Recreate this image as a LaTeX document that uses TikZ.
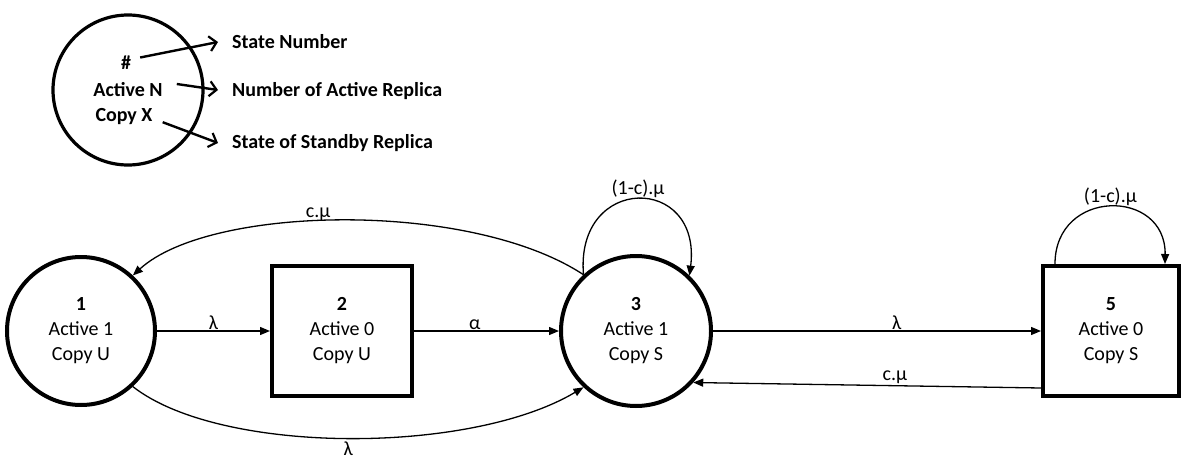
\documentclass[tikz,border=0pt]{standalone}
\usepackage{fontspec}
\setmainfont{Carlito}
\usetikzlibrary{arrows.meta,calc}
\begin{document}
\begin{tikzpicture}[x=1pt,y=-1pt,
  txt/.style={font=\fontsize{20}{25}\selectfont},
  btxt/.style={font=\bfseries\fontsize{20}{25}\selectfont, inner sep=0pt},
  state/.style={circle, draw, line width=4pt, inner sep=0pt, align=center, txt},
  boxstate/.style={rectangle, draw, line width=4pt, inner sep=0pt, align=center, txt},
  arr/.style={line width=1.3pt, -{Triangle[length=10pt,width=8pt]}},
  legarr/.style={line width=2.4pt, -{Straight Barb[length=7pt,width=15pt,line width=2.2pt]}},
  lbl/.style={txt, inner sep=1pt}
]
\useasboundingbox (0,0) rectangle (1183,460);

% ---- legend ----
\node[circle, draw, line width=3.2pt, minimum size=150pt] (leg) at (128,90) {};
\node[btxt, anchor=base, text height=11pt, text depth=0pt] (hash) at (126,70) {\#};
\node[btxt, anchor=base, text height=12pt, text depth=0pt] (actN) at (128,96) {Active N};
\node[btxt, anchor=base, text height=12pt, text depth=0pt] (copyX) at (124,121) {Copy X};
\node[btxt, anchor=west] (lab1) at (232,42) {State Number};
\node[btxt, anchor=west] (lab2) at (232,91) {Number of Active Replica};
\node[btxt, anchor=west] (lab3) at (232,143) {State of Standby Replica};
\draw[legarr] ($(hash.east)+(9,-7)$) -- ($(lab1.west)+(-14,0)$);
\draw[legarr] ($(actN.east)+(14,-6)$) -- ($(lab2.west)+(-14,-1)$);
\draw[legarr] ($(copyX.south east)+(10,1)$) -- ($(lab3.west)+(-14,0)$);

% ---- states ----
\node[state, minimum size=148pt] (n1) at (81,331) {\textbf{1}\\Active 1\\Copy U};
\node[boxstate, minimum width=140pt, minimum height=130pt] (n2) at (342,331) {\textbf{2}\\Active 0\\Copy U};
\node[state, minimum size=150pt] (n3) at (636,331) {\textbf{3}\\Active 1\\Copy S};
\node[boxstate, minimum width=136pt, minimum height=130pt] (n5) at (1111,331) {\textbf{5}\\Active 0\\Copy S};

% ---- transitions ----
\draw[arr] (n1) -- node[lbl, above, pos=0.5] {λ} (n2);
\draw[arr] (n2) -- node[lbl, above, pos=0.42] {α} (n3);
\draw[arr] (n3) -- node[lbl, above, pos=0.56] {λ} (n5);
\draw[arr] ($(n5.south west)+(0,-10)$) -- node[lbl, above, pos=0.42] {c.μ} (n3.-42);
\draw[arr] (n3.133) .. controls (470,200) and (210,205) .. node[lbl, above, pos=0.55, inner sep=0pt] {c.μ} (n1.47);
\draw[arr] (n1.-47) .. controls (220,455) and (470,455) .. node[lbl, below, pos=0.5, inner sep=3pt] {λ} (n3.-133);
\draw[arr] (n3.133) .. controls (575,174) and (702,174) .. node[lbl, above] {(1-c).μ} (n3.46);
\draw[arr] ($(n5.north west)+(14,0)$) .. controls (1055,188) and (1166,188) .. node[lbl, above] {(1-c).μ} ($(n5.north east)+(-16,0)$);
\end{tikzpicture}
\end{document}
